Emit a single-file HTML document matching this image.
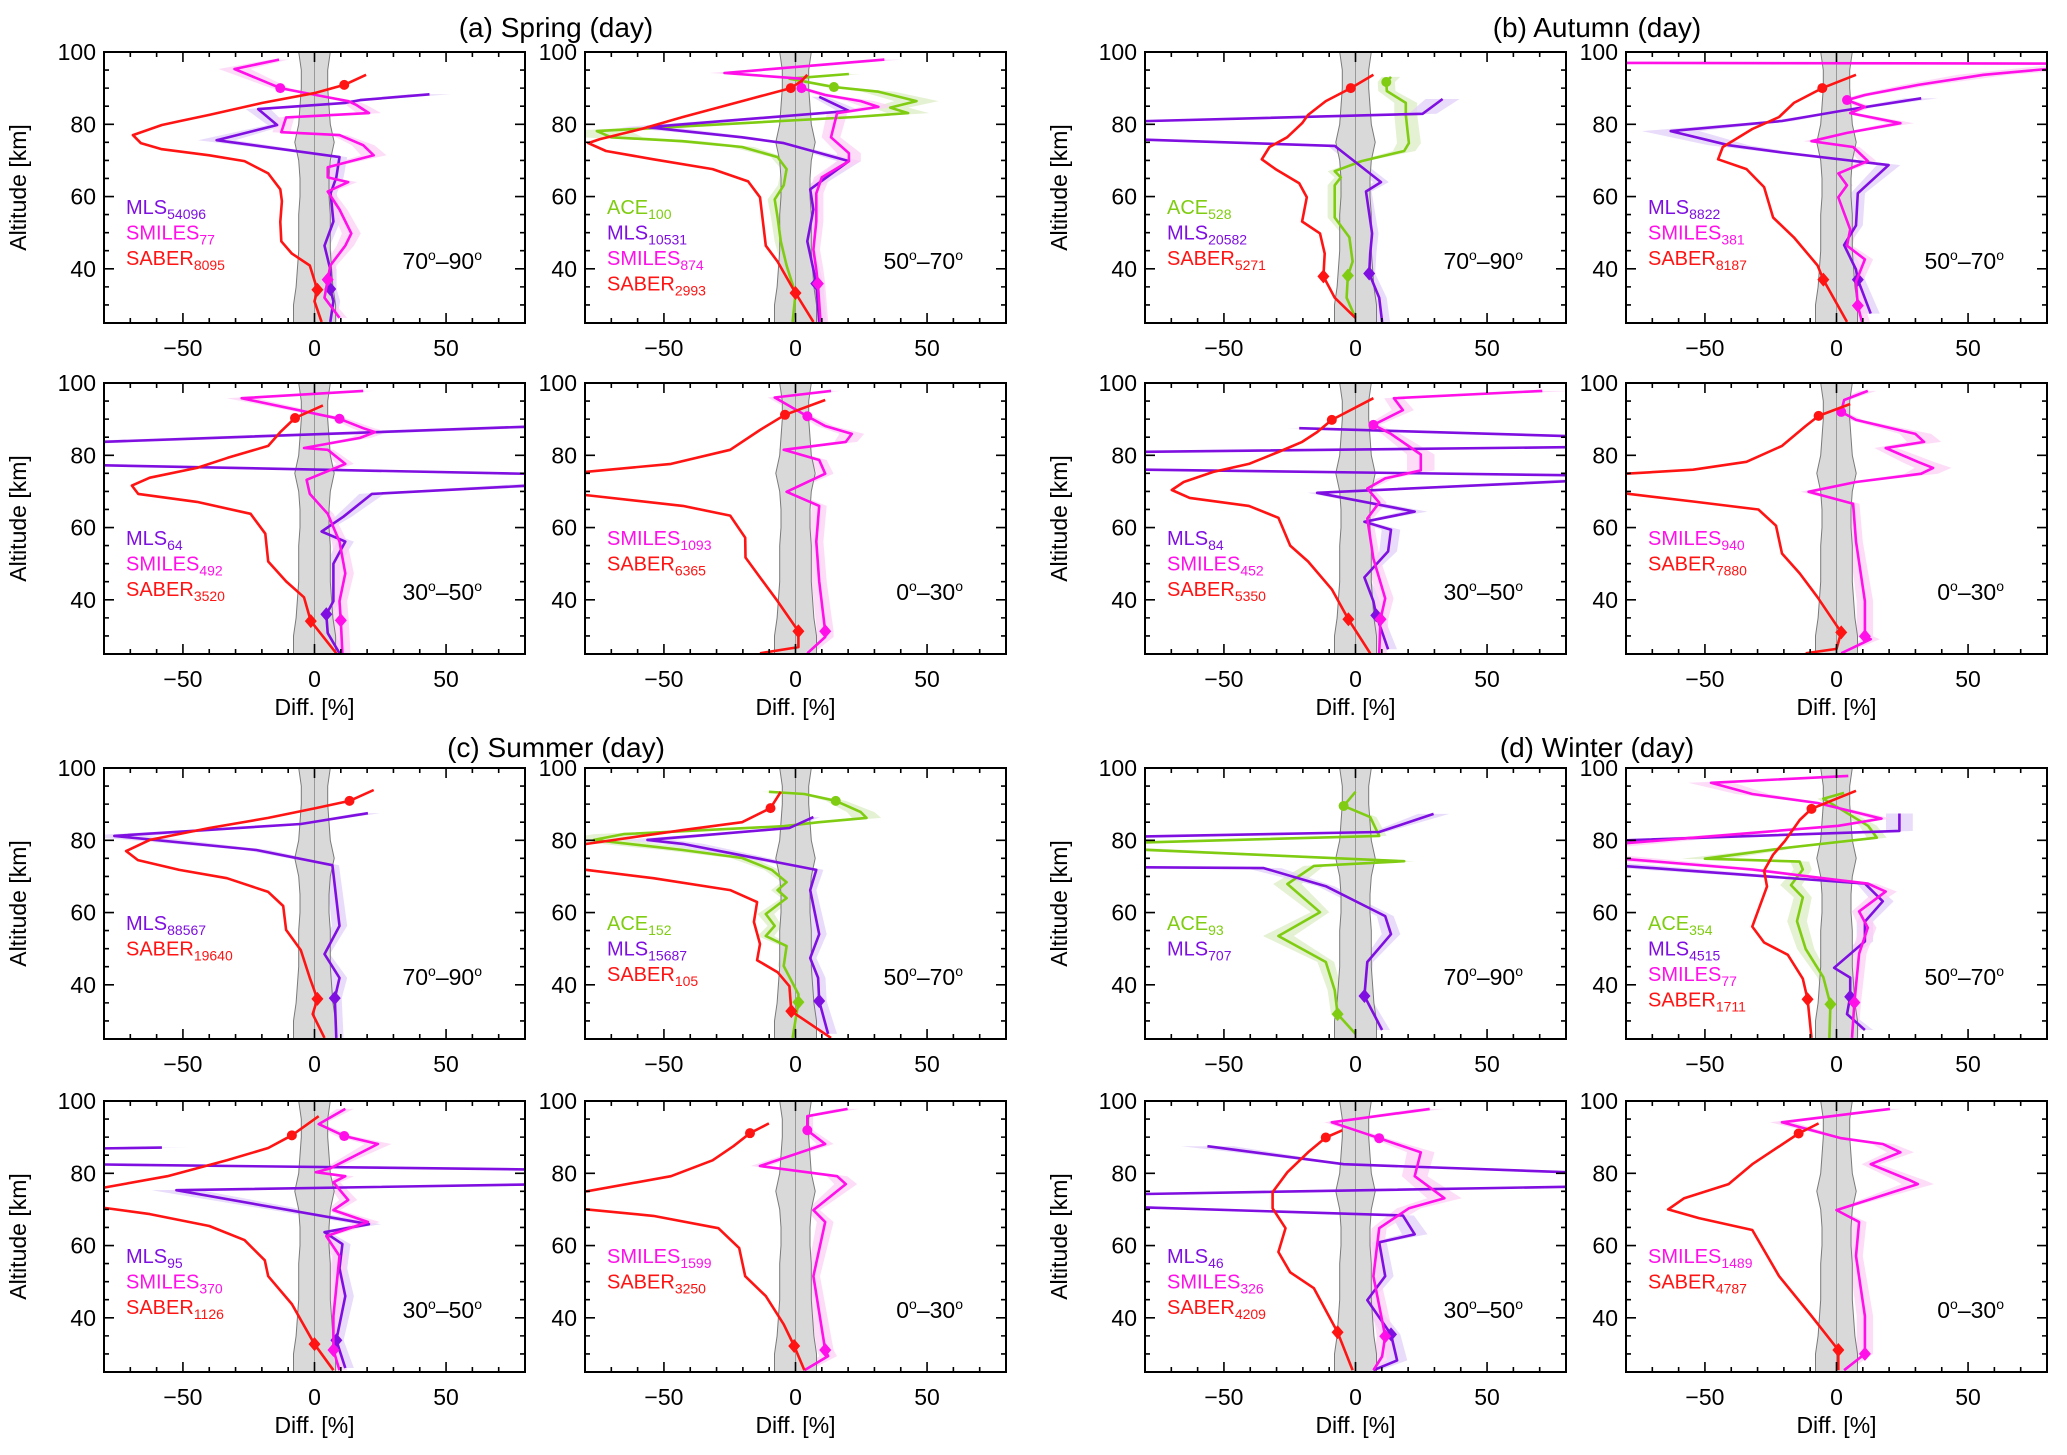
<!DOCTYPE html>
<html><head><meta charset="utf-8"><title>Temperature difference profiles</title>
<style>
html,body{margin:0;padding:0;background:#fff;}
svg{display:block;font-family:"Liberation Sans",Arial,sans-serif;}
</style></head>
<body>
<svg id="chart" xmlns="http://www.w3.org/2000/svg" width="2067" height="1455" viewBox="0 0 2067 1455"></svg>
<script>
// ---------- tick / axis data ----------
const xTickMajor = [-50, 0, 50];
const xTickMinor = [-70, -60, -40, -30, -20, -10, 10, 20, 30, 40, 60, 70];
const yTickMajor = [40, 60, 80, 100];
const yTickMinor = [30, 35, 45, 50, 55, 65, 70, 75, 85, 90, 95];
const bandAlt = [25, 30, 35, 40, 45, 50, 55, 60, 65, 70, 75, 80, 85, 90, 95, 100];
const bandHalf = [8, 8, 7, 6.5, 6, 6, 6, 5.5, 5.5, 6, 7.5, 6, 5.5, 5, 5, 6];

// ---------- Spring ----------
const sp1_MLS = [[43.7,88.3],[17.3,86.7],[11.7,85.9],[-21.4,84.2],[-14.2,79.8],[-37.2,75.6],[9.5,70.9],[8.3,65.3],[6.1,60.9],[7.2,53.1],[3.8,46.4],[6,39.8],[6,34.4],[7.2,31],[6,25.3]];
const sp1_SMILES = [[-13.5,97.9],[-30.4,95.3],[-13,90],[0.5,88.1],[12.8,86.4],[16,85.3],[20.7,83.1],[-10.8,81.9],[-12.6,77.8],[9.5,77],[18.5,74.2],[22.5,71.4],[13.9,69.8],[5,68.1],[5,65.3],[12.8,64],[5,61.4],[9.5,56.4],[14,49.8],[11.7,46.4],[6,40.9],[5,37],[3.8,32],[9.5,26.4]];
const sp1_SABER = [[19.6,93.7],[11.3,90.9],[0.5,88.7],[-19.8,85.9],[-40,82.6],[-51,80.9],[-58,79.8],[-69,77],[-66,74.8],[-58,73.1],[-40,71.4],[-26.6,69.8],[-17.6,66.4],[-13,62],[-12.4,58.7],[-13,53],[-12.6,47.6],[-8.6,44.2],[-1.8,40.9],[1.1,34.2],[0,31],[2.7,25.3]];
const sp2_ACE = [[20.3,93.9],[-2.3,92.6],[14.6,90.3],[31.5,89],[46,86.4],[36,84.6],[42.8,83.1],[22.5,82],[-75.5,78.1],[-70,76.4],[-42.8,75.3],[-20.3,73.7],[-6.8,70.9],[-3.4,67.6],[-4.5,63.1],[-7.9,59.2],[-6.8,54.2],[-5.6,47.6],[-3.4,40.9],[0,33.1],[-1.1,25.3]];
const sp2_MLS = [[9,87.6],[20.3,83.7],[-56.3,79.2],[-20.3,76.4],[-4.5,74.8],[20.3,69.8],[5.6,62],[6.8,56.4],[4.5,47.6],[6.8,39.8],[7.9,35.9],[9,25.3]];
const sp2_SMILES = [[33.8,97.9],[-27,94.2],[2.3,92.6],[2.3,90],[11.3,88.1],[24.8,86.4],[31.5,84.8],[15.8,83.1],[13.5,76.4],[20.3,72],[20.3,69.8],[10,65.3],[7.9,60.9],[7.9,53.1],[6.8,45.3],[7.9,39.8],[8.5,35.9],[9.5,25.3]];
const sp2_SABER = [[4.5,93.7],[2.3,92],[-1.8,90],[-20.3,86.4],[-42.8,82],[-58.6,78.7],[-74.3,75.9],[-78.8,74.8],[-72,72.6],[-54,70.3],[-31.5,67.6],[-18,64.2],[-13.5,59.8],[-12.4,53.1],[-11.3,46.4],[-6.8,42],[0,33.3],[6.8,25.3]];
const sp3_MLS = [[100,88.4],[-100,83.2],[-100,77.5],[100,74.6],[100,72.3],[21.8,69.3],[11,63],[2.7,58.9],[11.7,56.1],[7.2,50],[7.2,39.6],[4.5,36],[5,30.8],[9.5,25.2]];
const sp3_SMILES = [[18.5,97.8],[-27.7,95.8],[9.5,90.1],[18.5,87.5],[23,86.4],[17.3,84.8],[-4,82],[5,81.5],[11.7,77.6],[-3,73.2],[-1.8,69.3],[5,63.8],[9.5,56.1],[11.7,47.3],[9.5,39.6],[10,34.3],[10.6,25.2]];
const sp3_SABER = [[3.2,93.8],[-7.4,90.3],[-13,86.4],[-17.6,82.6],[-33,79.3],[-44.6,76.5],[-62.6,73.8],[-69.4,71.6],[-67,69.3],[-44.6,67.1],[-24.3,63.8],[-18.7,58.3],[-17.6,50.6],[-10.8,45.1],[-4,40.7],[-1.4,34.1],[8.3,25.2]];
const sp4_SMILES = [[13.5,97.8],[-7.9,96],[4.5,90.8],[11.3,88.1],[21.4,85.9],[19.1,83.7],[-4.5,81.5],[9,78.7],[11.3,74.9],[-3.4,69.9],[9,66],[7.9,56.1],[9,45.1],[11.3,31.3],[11.3,29.7],[4.5,25.2]];
const sp4_SABER = [[11.3,95.3],[-4,91.2],[-13.5,87],[-24.8,81.5],[-47.3,77.6],[-80,75.4],[-120,74],[-120,70],[-80,69],[-42.8,66],[-24.8,63.3],[-19.1,57.2],[-19,51.7],[-13.5,46.2],[-6.8,39.6],[1.1,31.3],[1.1,26.9],[-13.5,25.2]];

// ---------- Autumn ----------
const au1_ACE = [[13.5,93.1],[11.7,91.7],[11.9,89.2],[19.1,85.9],[19.1,82.6],[20.3,74.8],[18.5,72.6],[2.3,69.8],[-7.9,67],[-5.6,65.3],[-7.9,63.1],[-7.9,54.2],[-2.3,48.7],[-1.1,42],[-2.9,38.1],[-3.4,32],[0,26.4]];
const au1_MLS = [[33.1,87],[25.5,82.9],[-100,80.5],[-100,76.2],[-7.9,74],[9.7,64],[4,61.4],[6.3,49.8],[5.6,44.2],[5.2,38.7],[9,32],[10.1,25.3]];
const au1_SABER = [[6.8,93.7],[-1.8,90],[-11.3,86.4],[-18,82.6],[-20.3,80.3],[-26,76.4],[-32.7,73.7],[-35.6,70.3],[-30.4,67.6],[-21.4,63.7],[-18.5,59.8],[-20.3,53.1],[-13.5,49.8],[-11.7,44.2],[-12.2,37.9],[-7.9,32],[0,26.4]];
const au2_MLS = [[32.2,87.2],[1.8,83.7],[-20.7,80.9],[-63,78.1],[-41,74.2],[-20.7,72.2],[19.8,68.7],[8.1,60.9],[7.4,52],[2.9,46.6],[7.4,39.8],[8.1,37],[13,27.6]];
const au2_SMILES = [[-100,97],[80,96.8],[100,96.5],[80,95.3],[55.9,93.7],[31.1,90.9],[10.8,88.1],[4,86.7],[10.8,84.8],[5.2,83.1],[24.3,80.3],[4,77.6],[-9.5,75.3],[6.3,73.7],[11.9,69.8],[0.7,66.4],[4,63.1],[0.7,59.8],[5.2,50.9],[4,46.4],[10.8,42.6],[7.4,36.4],[8.1,29.8],[9.7,25.3]];
const au2_SABER = [[7.4,93.7],[-5.4,90],[-16.2,85.9],[-21.8,82],[-32,78.7],[-43.2,73.7],[-45,70.3],[-34.2,67.6],[-27.5,62.6],[-24.1,54.2],[-16.2,48.7],[-7.2,40.9],[-5,37],[4,25.3]];
const au3_MLS = [[-21.4,87.5],[100,84.9],[100,82.4],[-100,80.8],[-100,76.2],[100,74.3],[100,73.5],[-14.6,69.6],[22.5,64.4],[3.4,61.6],[13.5,59.4],[12.4,53.4],[3.4,46.2],[6.8,39.6],[7.9,35.7],[12.4,26.3]];
const au3_SMILES = [[71,97.8],[14.6,95.8],[18,92.5],[6.8,88.4],[13.5,85.9],[24.8,80.2],[24.8,75.8],[11.3,73.6],[4.5,70.8],[9,66.9],[4.5,62.5],[6.8,51.4],[11.3,40.4],[9.5,34.6],[9,25.2]];
const au3_SABER = [[6.8,95.8],[-9,89.8],[-14.6,86.4],[-20.3,83.7],[-29.3,80.9],[-40.5,77.6],[-54,75.4],[-65.3,72.6],[-69.8,70.4],[-63,68.2],[-40.5,66],[-29.3,62.7],[-24.8,55],[-18,50.6],[-9,42.9],[-2.7,34.6],[5.6,25.2]];
const au4_SMILES = [[11.9,97.8],[2.9,95.3],[1.8,92],[7.4,89.8],[30,85.9],[33.3,83.7],[18.7,82],[31.1,78.1],[36.7,76.5],[32.2,74.9],[7.4,72.6],[-10.6,69.9],[6.3,66.6],[7.4,56.1],[10.8,39.6],[10.8,29.9],[13,29.1],[1.8,25.2]];
const au4_SABER = [[5.2,94.2],[-6.8,90.9],[-11.7,88.1],[-20.7,82.6],[-34.2,78.2],[-54.5,76],[-80,74.9],[-120,74],[-120,70],[-80,69.4],[-54.5,67.2],[-29.7,65],[-23,60.5],[-20.7,52.8],[-14,47.3],[-7.2,40.7],[1.8,31],[0,26.4],[-11.7,25.2]];

// ---------- Summer ----------
const su1_MLS = [[20.3,87.5],[-5.2,84.5],[-76.1,81.2],[-22.1,77.3],[6.8,73.1],[9.5,56.3],[3.8,48.5],[9.5,41.9],[7.7,36.3],[8.3,25.3]];
const su1_SABER = [[22.5,93.9],[13.3,90.9],[0.5,88.9],[-17.6,86.2],[-40,83.4],[-62.6,80.1],[-71.6,77],[-67.1,74.5],[-51.4,71.8],[-33.3,69.5],[-17.6,65.7],[-11.9,61.8],[-10.8,55.2],[-5.2,49.6],[-1.8,41.9],[1.1,36.1],[-0.7,31.9],[3.8,25.3]];
const su2_ACE = [[-10.1,93.4],[3.4,92.8],[15.3,90.9],[24.8,87.8],[27,86.2],[9,85],[-4.5,83.9],[-65.3,81.7],[-76.6,80.1],[-42.8,77.3],[-20.3,75.1],[-9,71.8],[-3.4,68.4],[-6.8,66.2],[-3.4,64],[-11.3,59.6],[-7.9,56.3],[-11.3,53.5],[-3.4,50.7],[-4.5,45.2],[1.1,37.4],[1.1,35.2],[-1.1,25.3]];
const su2_MLS = [[6.8,86.4],[-2.3,83.4],[-56.3,80.1],[-42.8,79],[7.9,71.8],[5.6,66.2],[9,54],[5.6,47.4],[8.6,41.9],[9,35.5],[12.4,26.4]];
const su2_SABER = [[-5.6,93.4],[-9.5,88.9],[-20.3,85],[-42.8,82.8],[-79.3,79],[-120,78],[-120,72.5],[-79.3,71.8],[-54,69.5],[-24.8,66.2],[-14.6,62.9],[-15.8,57.4],[-13.5,51.3],[-14.6,46.8],[-6.8,43.5],[-2.3,39.6],[-1.6,32.7],[13.5,25.3]];
const su3_MLS = [[-58,87.1],[-100,86.7],[-100,82.6],[100,80.9],[100,77.1],[-52.5,75.3],[20.7,65.9],[3.8,63.7],[10.6,60.4],[9.5,53.7],[11.7,46],[8.3,33.8],[11.7,26.1]];
const su3_SMILES = [[11.7,97.8],[1.6,93.6],[11.3,90.3],[24.1,88.1],[6.1,81.4],[0.5,80.3],[11.7,79.2],[7.2,77.5],[12.8,72.6],[7.2,69.8],[20.3,66.5],[4.5,62.6],[9.5,57.1],[7.2,40.5],[7.2,31.1],[9.5,25.5]];
const su3_SABER = [[1.6,95.8],[-8.6,90.5],[-17.6,87],[-33.3,83.6],[-55.9,79.2],[-79.5,76.1],[-120,75],[-120,71],[-79.5,70.4],[-62.6,68.7],[-40,65.4],[-26.6,61.5],[-18.9,55.9],[-17.6,51.5],[-8.6,43.8],[0,32.7],[7.2,25.5]];
const su4_SMILES = [[19.8,97.8],[4.5,95.8],[4.5,91.9],[11.3,88.1],[-13.5,82],[15.8,79.2],[19.1,77],[6.8,69.8],[11.3,66.5],[6.8,51.5],[11.3,31.1],[12.4,29.4],[3.4,25.5]];
const su4_SABER = [[-10.1,93.8],[-17.3,91.1],[-23.6,87.5],[-31.5,83.6],[-47.3,79.2],[-79.3,75],[-120,74],[-120,70.5],[-79.3,70],[-54,68.2],[-29.3,64.8],[-21.4,59.3],[-19.1,51.5],[-11.3,46],[-4.5,38.2],[-0.5,32.2],[3.4,25.5]];

// ---------- Winter ----------
const wi1_ACE = [[0,93.4],[-4.5,89.5],[5.6,86.4],[9,81.2],[-100,79],[-100,78],[18.5,74.2],[-15.8,72.9],[-25.9,67.9],[-13.5,60.1],[-29.3,53.5],[-11.3,46.3],[-7.9,38.5],[-6.8,31.9],[0,26.4]];
const wi1_MLS = [[29.7,87.3],[9,82.3],[-100,80.8],[-100,72.6],[-34.9,72.3],[-11.3,67.3],[11.3,59],[13.5,54],[4.5,46.3],[3.4,36.9],[10.1,27.5]];
const wi2_ACE = [[2.9,93.1],[-5,91.5],[12,84],[15.3,80.7],[-18,78],[-50,74.9],[-14,74.1],[-12.8,71.9],[-17.3,67.6],[-12.8,64.2],[-15,57.6],[-11.7,49.9],[-5,42.1],[-2.3,34.6],[-2.7,25.3]];
const wi2_MLS = [[23.9,87.4],[23.9,82.6],[-100,79.5],[-100,73.9],[10.8,68],[17.6,63.1],[10.8,57.5],[10.8,52],[-0.9,44.7],[5.2,42],[5.2,36.7],[4,31.9],[10.8,27.5]];
const wi2_SMILES = [[4.5,97.8],[-47.7,95.9],[-32,92.8],[-7.2,90.3],[17.1,86],[0.7,84],[-100,78],[-100,76],[-32,71.9],[-0.5,69.1],[11.9,68],[18.7,65.8],[8.6,60.3],[11.9,55.8],[8.6,48.6],[6.8,35.1],[5.9,25.3]];
const wi2_SABER = [[7.4,93.7],[-9.5,88.7],[-14,85.6],[-19.6,79.8],[-24.1,76],[-27.5,71.6],[-26.4,67.2],[-32,56.1],[-27.5,51.7],[-18.5,48.3],[-12.8,41.7],[-11,36],[-9.5,25.3]];
const wi3_MLS = [[-56.3,87.5],[-4.5,82.5],[80,80.3],[100,79.9],[100,76.5],[-100,74],[-100,71],[18,68.3],[22.5,63.1],[9,60.9],[11.3,51.5],[4.5,44.9],[13.5,35.4],[15.8,28.2],[6.8,25.5]];
const wi3_SMILES = [[28.2,97.8],[-9,94.1],[9,89.7],[24.8,85.8],[22.5,79.2],[33.8,73.1],[20.3,70.3],[9,64.8],[6.8,51.5],[11.3,34.9],[10.1,29.3],[6.8,25.5]];
const wi3_SABER = [[-5,91.9],[-11.3,89.9],[-18,85.8],[-25.9,80.3],[-31.5,74.8],[-31.5,70.3],[-26.6,64.8],[-29.3,58.2],[-24.8,52.6],[-15.8,48.2],[-6.8,36],[-1.1,25.5]];
const wi4_SMILES = [[20.3,97.8],[-20.7,94.1],[1.8,89.7],[17.6,88.1],[24.3,85.8],[13,82.5],[27.7,78.1],[30.9,77],[0,69.8],[8.6,66.5],[7.4,57.1],[10.8,40.5],[10.8,30],[2.9,25.5]];
const wi4_SABER = [[-6.8,93.8],[-14.4,91],[-32,82.5],[-41,77],[-57.9,73.1],[-64,70],[-52.3,67.6],[-32,64.3],[-21.8,51.5],[-9.5,40.5],[0.7,31.1],[0.7,25.5]];

// ---------- layout ----------
const NS = "http://www.w3.org/2000/svg";
const svg = document.getElementById("chart");
const COLS = [104, 585, 1145, 1626];
const ROWS = [52, 383, 768, 1101];
const PW = 421, PH = 271;
const XMIN = -80, XMAX = 80, AMIN = 25, AMAX = 100;
const COLORS = {ACE: "#7fcc12", MLS: "#7f0fe0", SMILES: "#ff10e8", SABER: "#ff1414"};
const SHADE = {ACE: "#dcecc4", MLS: "#e2d0f8", SMILES: "#fcd0f6", SABER: null};

function mk(tag, attrs, parent) {
  const e = document.createElementNS(NS, tag);
  for (const k in attrs) e.setAttribute(k, attrs[k]);
  (parent || svg).appendChild(e);
  return e;
}
function xScale(p, v) { return p.x + (v - XMIN) / (XMAX - XMIN) * PW; }
function yScale(p, a) { return p.y + (AMAX - a) / (AMAX - AMIN) * PH; }

function interpX(data, alt, fromTop) {
  const n = data.length;
  for (let k = 0; k < n - 1; k++) {
    const i = fromTop ? k : n - 2 - k;
    const a0 = data[i][1], a1 = data[i + 1][1];
    if ((alt - a0) * (alt - a1) <= 0 && a0 !== a1) {
      const t = (alt - a0) / (a1 - a0);
      return data[i][0] + t * (data[i + 1][0] - data[i][0]);
    }
  }
  return null;
}

const panels = [
  {id:"spring-70-90", c:0, r:0, lat:["70","90"], series:[["MLS",sp1_MLS,"54096",null,34.4],["SMILES",sp1_SMILES,"77",90,37],["SABER",sp1_SABER,"8095",90.9,34.2]]},
  {id:"spring-50-70", c:1, r:0, lat:["50","70"], series:[["ACE",sp2_ACE,"100",90.3,null],["MLS",sp2_MLS,"10531",null,35.9],["SMILES",sp2_SMILES,"874",90,35.9],["SABER",sp2_SABER,"2993",90,33.3]]},
  {id:"spring-30-50", c:0, r:1, lat:["30","50"], series:[["MLS",sp3_MLS,"64",null,36],["SMILES",sp3_SMILES,"492",90.1,34.3],["SABER",sp3_SABER,"3520",90.3,34.1]]},
  {id:"spring-0-30", c:1, r:1, lat:["0","30"], series:[["SMILES",sp4_SMILES,"1093",90.8,31.3],["SABER",sp4_SABER,"6365",91.2,31.3]]},
  {id:"autumn-70-90", c:2, r:0, lat:["70","90"], series:[["ACE",au1_ACE,"528",91.7,38.1],["MLS",au1_MLS,"20582",null,38.7],["SABER",au1_SABER,"5271",90,37.9]]},
  {id:"autumn-50-70", c:3, r:0, lat:["50","70"], series:[["MLS",au2_MLS,"8822",null,37],["SMILES",au2_SMILES,"381",86.7,29.8],["SABER",au2_SABER,"8187",90,37]]},
  {id:"autumn-30-50", c:2, r:1, lat:["30","50"], series:[["MLS",au3_MLS,"84",null,35.7],["SMILES",au3_SMILES,"452",88.4,34.6],["SABER",au3_SABER,"5350",89.8,34.6]]},
  {id:"autumn-0-30", c:3, r:1, lat:["0","30"], series:[["SMILES",au4_SMILES,"940",92,29.9],["SABER",au4_SABER,"7880",90.9,31]]},
  {id:"summer-70-90", c:0, r:2, lat:["70","90"], series:[["MLS",su1_MLS,"88567",null,36.3],["SABER",su1_SABER,"19640",90.9,36.1]]},
  {id:"summer-50-70", c:1, r:2, lat:["50","70"], series:[["ACE",su2_ACE,"152",90.9,35.2],["MLS",su2_MLS,"15687",null,35.5],["SABER",su2_SABER,"105",88.9,32.7]]},
  {id:"summer-30-50", c:0, r:3, lat:["30","50"], series:[["MLS",su3_MLS,"95",null,33.8],["SMILES",su3_SMILES,"370",90.3,31.1],["SABER",su3_SABER,"1126",90.5,32.7]]},
  {id:"summer-0-30", c:1, r:3, lat:["0","30"], series:[["SMILES",su4_SMILES,"1599",91.9,31.1],["SABER",su4_SABER,"3250",91.1,32.2]]},
  {id:"winter-70-90", c:2, r:2, lat:["70","90"], series:[["ACE",wi1_ACE,"93",89.5,31.9],["MLS",wi1_MLS,"707",null,36.9]]},
  {id:"winter-50-70", c:3, r:2, lat:["50","70"], series:[["ACE",wi2_ACE,"354",null,34.6],["MLS",wi2_MLS,"4515",null,36.7],["SMILES",wi2_SMILES,"77",null,35.1],["SABER",wi2_SABER,"1711",88.7,36]]},
  {id:"winter-30-50", c:2, r:3, lat:["30","50"], series:[["MLS",wi3_MLS,"46",null,35.4],["SMILES",wi3_SMILES,"326",89.7,34.9],["SABER",wi3_SABER,"4209",89.9,36]]},
  {id:"winter-0-30", c:3, r:3, lat:["0","30"], series:[["SMILES",wi4_SMILES,"1489",null,30],["SABER",wi4_SABER,"4787",91,31.1]]}
];

// titles
const titles = [["(a) Spring (day)", 556, 37, "title-spring"], ["(b) Autumn (day)", 1597, 37, "title-autumn"], ["(c) Summer (day)", 556, 757, "title-summer"], ["(d) Winter (day)", 1597, 757, "title-winter"]];
titles.forEach(t => {
  const e = mk("text", {x: t[1], y: t[2], "text-anchor": "middle", "font-size": 28, fill: "#000"});
  e.textContent = t[0];
  
  
});

panels.forEach((pd, pi) => {
  const p = {x: COLS[pd.c], y: ROWS[pd.r]};
  const g = mk("g", {});
  
  

  const clipId = "clip" + pi;
  const cp = mk("clipPath", {id: clipId}, g);
  mk("rect", {x: p.x, y: p.y, width: PW, height: PH}, cp);
  const plot = mk("g", {"clip-path": "url(#" + clipId + ")"}, g);

  // uncertainty shading (drawn behind)
  pd.series.forEach(s => {
    const [name, data] = s;
    if (!SHADE[name]) return;
    const L = data.map(d => xScale(p, d[0] - (1.5 + 0.15 * Math.abs(d[0]))).toFixed(1) + "," + yScale(p, d[1]).toFixed(1));
    const R = data.map(d => xScale(p, d[0] + (1.5 + 0.15 * Math.abs(d[0]))).toFixed(1) + "," + yScale(p, d[1]).toFixed(1));
    const sh = mk("polygon", {points: L.concat(R.reverse()).join(" "), fill: SHADE[name], opacity: 0.75}, plot);
    
    
  });

  // reference band
  let up = [], dn = [];
  for (let i = 0; i < bandAlt.length; i++) {
    up.push(xScale(p, -bandHalf[i]).toFixed(1) + "," + yScale(p, bandAlt[i]).toFixed(1));
    dn.push(xScale(p, bandHalf[i]).toFixed(1) + "," + yScale(p, bandAlt[i]).toFixed(1));
  }
  const band = mk("polygon", {points: up.concat(dn.reverse()).join(" "), fill: "#d9d9d9", stroke: "#7a7a7a", "stroke-width": 1}, plot);
  
  
  const zl = mk("line", {x1: xScale(p, 0), x2: xScale(p, 0), y1: p.y, y2: p.y + PH, stroke: "#999", "stroke-width": 1}, plot);
  
  

  // series
  pd.series.forEach(s => {
    const [name, data, n, mTop, mBot] = s;
    const col = COLORS[name];
    const pts = data.map(d => xScale(p, d[0]).toFixed(1) + "," + yScale(p, d[1]).toFixed(1)).join(" ");
    const pl = mk("polyline", {points: pts, fill: "none", stroke: col, "stroke-width": 2.6, "stroke-linejoin": "round"}, plot);
    
    
    if (mTop !== null) {
      const xv = interpX(data, mTop, true);
      if (xv !== null) {
        const c = mk("circle", {cx: xScale(p, xv), cy: yScale(p, mTop), r: 5, fill: col}, plot);
        
        
      }
    }
    if (mBot !== null) {
      const xv = interpX(data, mBot, false);
      if (xv !== null) {
        const cx = xScale(p, xv), cy = yScale(p, mBot);
        const d = mk("polygon", {points: `${cx},${cy-7} ${cx+6},${cy} ${cx},${cy+7} ${cx-6},${cy}`, fill: col}, plot);
        
        
      }
    }
  });

  // frame
  const fr = mk("rect", {x: p.x, y: p.y, width: PW, height: PH, fill: "none", stroke: "#000", "stroke-width": 2}, g);
  
  

  // ticks
  let tk = "";
  xTickMajor.forEach(v => { const x = xScale(p, v); tk += `M${x},${p.y+PH}v-10M${x},${p.y}v10`; });
  xTickMinor.forEach(v => { const x = xScale(p, v); tk += `M${x},${p.y+PH}v-5M${x},${p.y}v5`; });
  yTickMajor.forEach(a => { const y = yScale(p, a); tk += `M${p.x},${y}h10M${p.x+PW},${y}h-10`; });
  yTickMinor.forEach(a => { const y = yScale(p, a); tk += `M${p.x},${y}h5M${p.x+PW},${y}h-5`; });
  const tp = mk("path", {d: tk, stroke: "#000", "stroke-width": 1.6, fill: "none"}, g);
  
  

  xTickMajor.forEach(v => {
    const t = mk("text", {x: xScale(p, v), y: p.y + PH + 33, "text-anchor": "middle", "font-size": 23}, g);
    t.textContent = v < 0 ? "\u2212" + Math.abs(v) : String(v);
    
    
  });
  yTickMajor.forEach(a => {
    const t = mk("text", {x: p.x - 8, y: yScale(p, a) + 8, "text-anchor": "end", "font-size": 23}, g);
    t.textContent = String(a);
    
    
  });

  if (pd.c === 0 || pd.c === 2) {
    const cx = p.x - 78, cy = p.y + PH / 2;
    const t = mk("text", {x: cx, y: cy, "text-anchor": "middle", "font-size": 23, transform: `rotate(-90 ${cx} ${cy})`}, g);
    t.textContent = "Altitude [km]";
    
    
  }
  if (pd.r === 1 || pd.r === 3) {
    const t = mk("text", {x: p.x + PW / 2, y: p.y + PH + 61, "text-anchor": "middle", "font-size": 23}, g);
    t.textContent = "Diff. [%]";
    
    
  }

  // legend
  pd.series.forEach((s, i) => {
    const t = mk("text", {x: p.x + 22, y: p.y + 162 + i * 25.5, "font-size": 20, fill: COLORS[s[0]]}, g);
    
    
    t.appendChild(document.createTextNode(s[0]));
    const sub = document.createElementNS(NS, "tspan");
    sub.setAttribute("font-size", 14);
    sub.setAttribute("dy", 5);
    sub.textContent = s[2];
    t.appendChild(sub);
  });

  // latitude range
  const lt = mk("text", {x: p.x + 378, y: p.y + 217, "text-anchor": "end", "font-size": 23}, g);
  
  
  const parts = [[pd.lat[0], 0, 23], ["o", -9, 14], ["\u2013" + pd.lat[1], 9, 23], ["o", -9, 14]];
  parts.forEach(q => {
    const ts = document.createElementNS(NS, "tspan");
    ts.setAttribute("dy", q[1]);
    ts.setAttribute("font-size", q[2]);
    ts.textContent = q[0];
    lt.appendChild(ts);
  });
});
</script>
</body></html>
